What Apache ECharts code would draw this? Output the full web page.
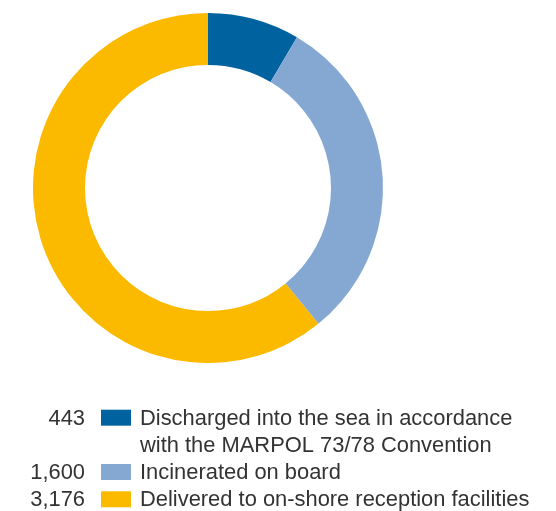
<!DOCTYPE html>
<html><head><meta charset="utf-8">
<script src="https://cdn.jsdelivr.net/npm/echarts@6/dist/echarts.min.js"></script>
<style>html,body{margin:0;padding:0;background:#fff}#c{width:556px;height:511px}</style>
</head><body><div id="c"></div>
<script>
var categories = ["Discharged into the sea in accordance\nwith the MARPOL 73/78 Convention", "Incinerated on board", "Delivered to on-shore reception facilities"];
var values = [443, 1600, 3176];
var valueLabels = ["443", "1,600", "3,176"];
var colors = ["#0063A0", "#85A8D2", "#FBBA00"];

var chart = echarts.init(document.getElementById('c'), null, {renderer: 'canvas'});
var font = '"Liberation Sans", Arial, sans-serif';
var fs = 21.9;
var graphics = [];
var rowMid = [417.7, 472, 499.3];
for (var i = 0; i < categories.length; i++) {
  var my = rowMid[i];
  graphics.push({type: 'text', x: 85, y: my + 1.1, style: {text: valueLabels[i], font: fs + 'px ' + font, fill: '#333333', textAlign: 'right', textVerticalAlign: 'middle'}});
  graphics.push({type: 'rect', shape: {x: 101, y: my - 8, width: 30, height: 16}, style: {fill: colors[i]}});
  var lines = categories[i].split('\n');
  for (var j = 0; j < lines.length; j++) {
    graphics.push({type: 'text', x: 140, y: my + 1.1 + j * 27, style: {text: lines[j], font: fs + 'px ' + font, fill: '#333333', textAlign: 'left', textVerticalAlign: 'middle'}});
  }
}
chart.setOption({
  animation: false,
  series: [{
    type: 'pie',
    center: [208, 188],
    radius: [123, 175],
    startAngle: 90,
    clockwise: true,
    label: {show: false},
    labelLine: {show: false},
    itemStyle: {borderWidth: 0},
    emphasis: {disabled: true},
    data: values.map(function (v, i) { return {value: v, name: categories[i], itemStyle: {color: colors[i]}}; })
  }],
  graphic: graphics
});
</script></body></html>
